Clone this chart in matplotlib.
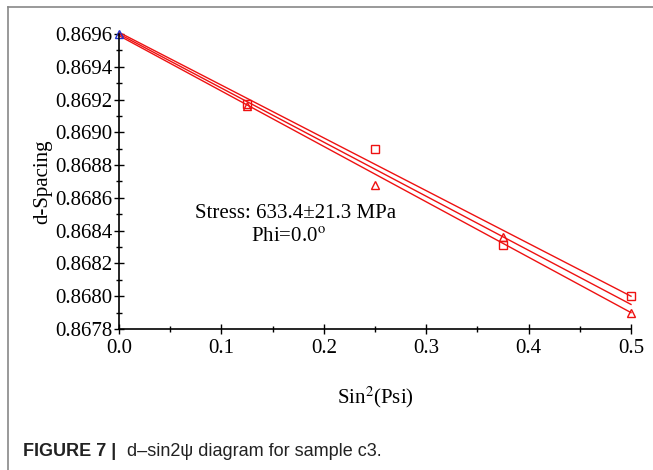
import matplotlib
matplotlib.use("Agg")
import matplotlib.pyplot as plt
from matplotlib.lines import Line2D
from matplotlib.ticker import MultipleLocator, FormatStrFormatter

plt.rcParams['font.family'] = ['Liberation Serif', 'DejaVu Serif']
plt.rcParams['mathtext.fontset'] = 'stix'

# measured points (sin^2 psi, d-spacing)
sq_x = [0.125, 0.25, 0.375, 0.5]
sq_y = [0.86917, 0.86890, 0.86831, 0.86800]
tri_x = [0.125, 0.25, 0.375, 0.5]
tri_y = [0.86916, 0.86868, 0.86836, 0.86790]
zero_x = [0.0]
zero_y = [0.86960]

# fitted line and bounds (end points)
fit_x = [0.0, 0.5]
fit_upper = [0.86961, 0.86800]
fit_mid = [0.86960, 0.86795]
fit_lower = [0.86959, 0.86790]

fig = plt.figure(figsize=(6.53, 4.70), dpi=100)
ax = fig.add_axes([0.1822, 0.30, 0.7841, 0.6277])

for fy in (fit_upper, fit_mid, fit_lower):
    ax.plot(fit_x, fy, color='#ee1111', lw=1.0, clip_on=False)

ax.plot(sq_x, sq_y, 's', mfc='none', mec='#ee1111', ms=5.5, mew=1.0, clip_on=False)
ax.plot(tri_x, tri_y, '^', mfc='none', mec='#ee1111', ms=6, mew=1.0, clip_on=False)
ax.plot(zero_x, zero_y, '^', mfc='none', mec='#2233cc', ms=6, mew=1.0, clip_on=False)

ax.set_xlim(0, 0.5)
ax.set_ylim(0.8678, 0.8696)
ax.xaxis.set_major_locator(MultipleLocator(0.1))
ax.xaxis.set_minor_locator(MultipleLocator(0.05))
ax.yaxis.set_major_locator(MultipleLocator(0.0002))
ax.yaxis.set_minor_locator(MultipleLocator(0.0001))
ax.xaxis.set_major_formatter(FormatStrFormatter('%.1f'))
ax.yaxis.set_major_formatter(FormatStrFormatter('%.4f'))

for s in ('top', 'right'):
    ax.spines[s].set_visible(False)
ax.spines['left'].set_linewidth(1.2)
ax.spines['bottom'].set_linewidth(1.2)
ax.tick_params(which='both', direction='inout', width=1.0, labelsize=15, pad=1)
ax.tick_params(which='major', length=7)
ax.tick_params(which='minor', length=5)
ax.tick_params(axis='x', pad=4)

ax.set_ylabel('d-Spacing', fontsize=15, labelpad=2)
ax.set_xlabel('Sin$^2$(Psi)', fontsize=15, labelpad=19)

ax.text(0.344, 0.393, 'Stress: 633.4\u00b121.3 MPa', transform=ax.transAxes,
        ha='center', va='center', fontsize=15)
ax.text(0.33, 0.31, 'Phi=0.0$^\\mathrm{o}$', transform=ax.transAxes,
        ha='center', va='center', fontsize=15)

fig.text(23 / 653, 1 - 452 / 470, 'FIGURE 7 |', fontsize=13, fontweight='bold',
         family=['Liberation Sans'], va='center', color='#222222')
fig.text(127 / 653, 1 - 452 / 470, 'd\u2013sin2\u03c8 diagram for sample c3.', fontsize=13,
         family=['Liberation Sans', 'DejaVu Sans'], va='center', color='#222222')

# thin grey frame of the figure panel
fig.add_artist(Line2D([8 / 653, 1], [1 - 7 / 470, 1 - 7 / 470], transform=fig.transFigure,
                      color='#888888', lw=1.2))
fig.add_artist(Line2D([8 / 653, 8 / 653], [0, 1 - 7 / 470], transform=fig.transFigure,
                      color='#888888', lw=1.2))

fig.savefig('out.png', dpi=100)
